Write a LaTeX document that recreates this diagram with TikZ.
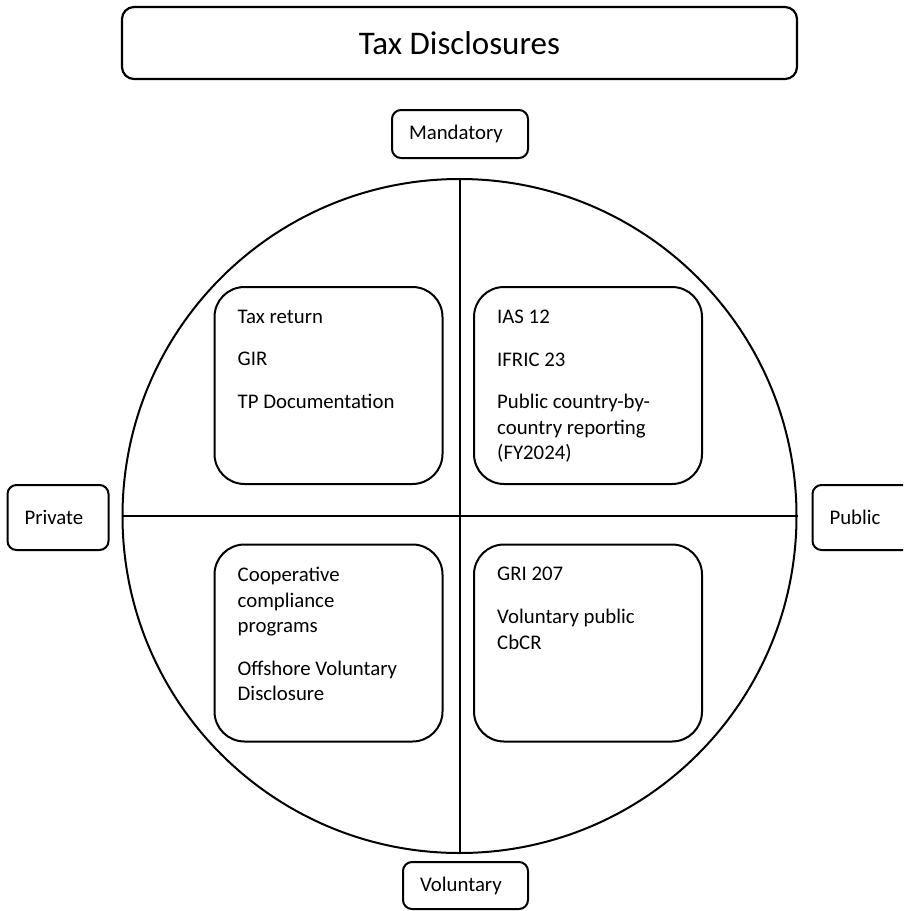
\documentclass[tikz,border=0pt]{standalone}
\usepackage{fontspec}
\setmainfont{Carlito}
\usetikzlibrary{positioning,calc}

\begin{document}
\begin{tikzpicture}[x=1pt, y=-1pt]
\tikzset{
    titlebox/.style={draw,line width=2.2pt,rounded corners=12pt,minimum width=675pt,minimum height=72pt,font=\fontsize{33}{40}\selectfont},
    tag/.style={draw,line width=2pt,rounded corners=9pt,align=left,inner xsep=17pt,inner ysep=0pt,font=\fontsize{20.8}{25}\selectfont},
    quad/.style={draw,line width=2pt,rounded corners=30pt,minimum width=228pt,minimum height=197pt},
    quadtext/.style={anchor=north west,align=left,inner sep=0pt,font=\fontsize{20.8}{25.5}\selectfont}
}
\useasboundingbox (0,0) rectangle (903,911);
\clip (0,0) rectangle (903,911);
% title
\node[titlebox] (title) at (459.5,43) {Tax Disclosures};
% circle and axes
\node[circle,draw,line width=2pt,minimum size=674pt,inner sep=0pt] (disc) at (459.5,516) {};
\draw[line width=2pt] (disc.north) -- (disc.south);
\draw[line width=2pt] (disc.west) -- (disc.east);
% axis labels
\node[tag,text width=102pt,minimum height=48pt] (mandatory) at (460,134) {Mandatory};
\node[tag,text width=91pt,minimum height=47pt] (voluntary) at (465.5,885.5) {Voluntary};
\node[tag,text width=67pt,minimum height=65pt] (private) at (58,517.5) {Private};
\node[tag,text width=67pt,minimum height=65pt] (public) at (863,517.5) {Public};
% quadrants
\node[quad] (tl) at (328.5,385.5) {};
\node[quad] (tr) at (588,385.5) {};
\node[quad] (bl) at (328.5,643) {};
\node[quad] (br) at (588,643) {};
\node[quadtext] (tltext) at ([shift={(24,23.5)}]tl.north west)
  {Tax return\\[17.3pt] GIR\\[17.3pt] TP Documentation};
\node[quadtext] (trtext) at ([shift={(24,23.5)}]tr.north west)
  {IAS 12\\[17.3pt] IFRIC 23\\[17.3pt] Public country-by-\\ country reporting\\ (FY2024)};
\node[quadtext] (bltext) at ([shift={(24,23.5)}]bl.north west)
  {Cooperative\\ compliance\\ programs\\[17.3pt] Offshore Voluntary\\ Disclosure};
\node[quadtext] (brtext) at ([shift={(24,23.5)}]br.north west)
  {GRI 207\\[17.3pt] Voluntary public\\ CbCR};
\end{tikzpicture}
\end{document}
